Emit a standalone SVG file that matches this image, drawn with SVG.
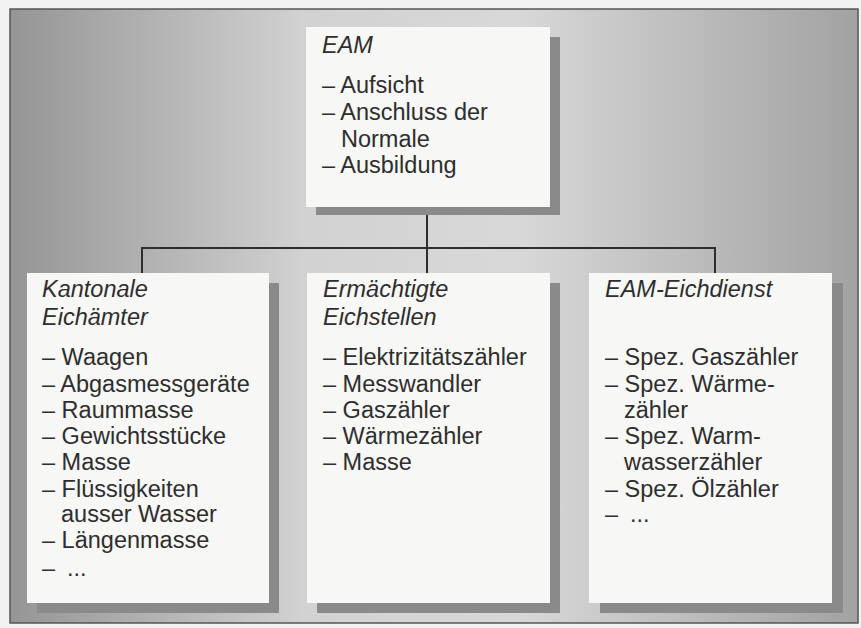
<svg xmlns="http://www.w3.org/2000/svg" width="861" height="628" viewBox="0 0 861 628">
<defs>
<linearGradient id="bg" x1="0" y1="0" x2="1" y2="0">
<stop offset="0" stop-color="#959595"/>
<stop offset="0.35" stop-color="#d2d2d2"/>
<stop offset="0.6" stop-color="#d8d8d8"/>
<stop offset="1" stop-color="#a2a2a2"/>
</linearGradient>
<style>
text{font-family:"Liberation Sans",Arial,sans-serif;font-size:23.5px;fill:#2e2e2e}
.t{font-style:italic}
.box{fill:#f7f7f5}
.sh{fill:#8a8a8a}
.ln{stroke:#2e2e2e;stroke-width:2;fill:none}
</style>
</defs>
<rect width="861" height="628" fill="#f2f2f2"/>
<rect x="10" y="9" width="848" height="614" fill="url(#bg)" stroke="#555" stroke-width="1.5"/>
<g id="connectors">
<path class="ln" d="M427 215V273M142 273V248H715V273"/>
</g>
<g id="eam">
<rect class="sh" x="316" y="37" width="244" height="178"/>
<rect class="box" x="306" y="27" width="244" height="180"/>
<text class="t" x="322" y="53">EAM</text>
<text x="322" y="93">– Aufsicht</text>
<text x="322" y="120">– Anschluss der</text>
<text x="341" y="147">Normale</text>
<text x="322" y="173">– Ausbildung</text>
</g>
<g id="kantonal">
<rect class="sh" x="37" y="283" width="242" height="330"/>
<rect class="box" x="27" y="273" width="242" height="330"/>
<text class="t" x="42" y="297">Kantonale</text>
<text class="t" x="42" y="325">Eichämter</text>
<text x="42" y="365">– Waagen</text>
<text x="42" y="392">– Abgasmessgeräte</text>
<text x="42" y="418">– Raummasse</text>
<text x="42" y="444">– Gewichtsstücke</text>
<text x="42" y="470">– Masse</text>
<text x="42" y="497">– Flüssigkeiten</text>
<text x="61" y="522">ausser Wasser</text>
<text x="42" y="548">– Längenmasse</text>
<text x="42" y="576">–<tspan x="67">...</tspan></text>
</g>
<g id="ermaechtigt">
<rect class="sh" x="317" y="283" width="243" height="330"/>
<rect class="box" x="307" y="273" width="243" height="330"/>
<text class="t" x="323" y="297">Ermächtigte</text>
<text class="t" x="323" y="325">Eichstellen</text>
<text x="323" y="365">– Elektrizitätszähler</text>
<text x="323" y="392">– Messwandler</text>
<text x="323" y="418">– Gaszähler</text>
<text x="323" y="444">– Wärmezähler</text>
<text x="323" y="470">– Masse</text>
</g>
<g id="eichdienst">
<rect class="sh" x="600" y="283" width="243" height="330"/>
<rect class="box" x="589" y="273" width="243" height="330"/>
<text class="t" x="605" y="297">EAM-Eichdienst</text>
<text x="605" y="365">– Spez. Gaszähler</text>
<text x="605" y="392">– Spez. Wärme-</text>
<text x="624" y="418">zähler</text>
<text x="605" y="444">– Spez. Warm-</text>
<text x="624" y="470">wasserzähler</text>
<text x="605" y="497">– Spez. Ölzähler</text>
<text x="605" y="522">–<tspan x="630">...</tspan></text>
</g>
</svg>
